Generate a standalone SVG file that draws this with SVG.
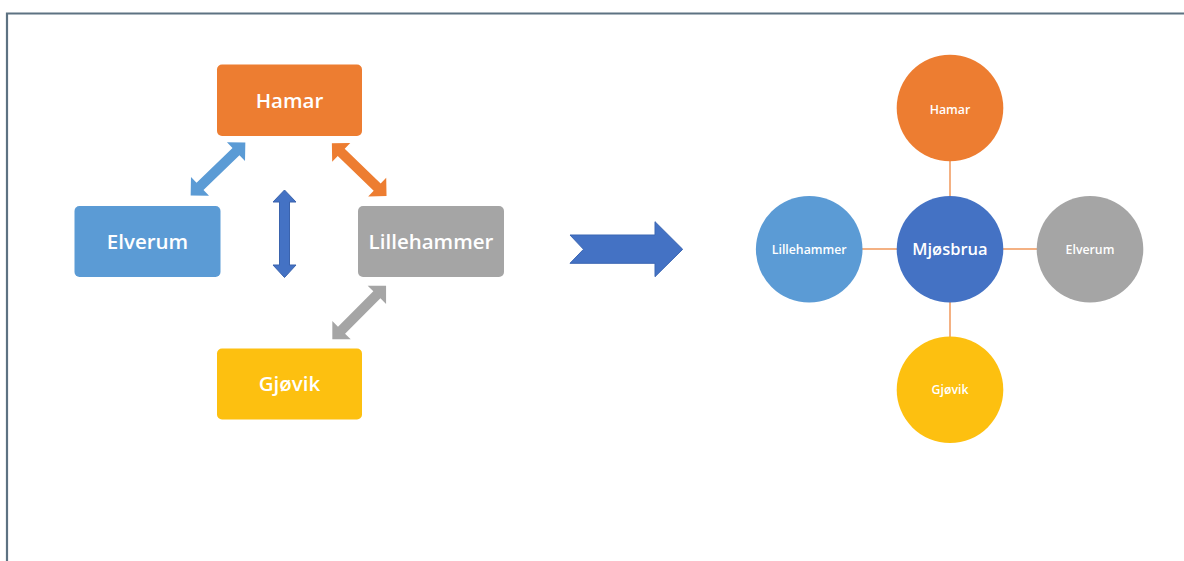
<svg xmlns="http://www.w3.org/2000/svg" width="1184" height="561" viewBox="0 0 1184 561">
<style>
.lbl{font-family:"Open Sans","Liberation Sans",sans-serif;font-weight:600;fill:#fff;text-anchor:middle}
.big{font-size:20.5px}
.sm{font-size:12.3px}
.mid{font-size:16.5px}
.link{stroke:#f4b183;stroke-width:2;fill:none}
</style>
<defs>
<polygon id="dbl" points="-38,0 -25,-13 -25,-5 25,-5 25,-13 38,0 25,13 25,5 -25,5 -25,13"/>
</defs>
<rect width="1184" height="561" fill="#fff"/>
<path d="M7,561 V13.5 H1184" fill="none" stroke="#5d7282" stroke-width="2.2"/>
<g id="connectors">
<use href="#dbl" transform="translate(218,169) rotate(-44)" fill="#5b9bd5"/>
<use href="#dbl" transform="translate(359.2,169.7) rotate(44)" fill="#ed7d31"/>
<use href="#dbl" transform="translate(359.2,312.5) rotate(-45)" fill="#a5a5a5"/>
<polygon points="284.5,190 296,202 289.5,202 289.5,265 296,265 284.5,277.5 273,265 279.5,265 279.5,202 273,202" fill="#4472c4" stroke="#3a63ad" stroke-width="1"/>
<polygon points="570,235 655,235 655,221.7 682.7,249.3 655,276.7 655,263.3 570,263.3 583.5,249.3" fill="#4472c4" stroke="#3b66b3" stroke-width="1"/>
<line class="link" x1="950" y1="161" x2="950" y2="196"/>
<line class="link" x1="950" y1="302" x2="950" y2="337"/>
<line class="link" x1="862" y1="249" x2="897" y2="249"/>
<line class="link" x1="1003" y1="249" x2="1037" y2="249"/>
</g>
<g id="box-hamar"><rect x="217" y="64.5" width="145" height="71.5" rx="5" fill="#ed7d31"/><text class="lbl big" x="289.5" y="107.5">Hamar</text></g>
<g id="box-elverum"><rect x="74.5" y="206" width="146" height="71" rx="5" fill="#5b9bd5"/><text class="lbl big" x="147.5" y="249">Elverum</text></g>
<g id="box-lillehammer"><rect x="358" y="206" width="146" height="71" rx="5" fill="#a5a5a5"/><text class="lbl big" x="431" y="249">Lillehammer</text></g>
<g id="box-gjovik"><rect x="217" y="348.5" width="145" height="71" rx="5" fill="#fdc010"/><text class="lbl big" x="289.5" y="391">Gjøvik</text></g>
<g id="c-hamar"><circle cx="950" cy="108" r="53.3" fill="#ed7d31"/><text class="lbl sm" x="950" y="114">Hamar</text></g>
<g id="c-mjosbrua"><circle cx="950" cy="249.3" r="53.3" fill="#4472c4"/><text class="lbl mid" x="950" y="255">Mjøsbrua</text></g>
<g id="c-lillehammer"><circle cx="809.2" cy="249.3" r="53.3" fill="#5b9bd5"/><text class="lbl sm" x="809.2" y="253.5">Lillehammer</text></g>
<g id="c-elverum"><circle cx="1090" cy="249.3" r="53.3" fill="#a5a5a5"/><text class="lbl sm" x="1090" y="253.5">Elverum</text></g>
<g id="c-gjovik"><circle cx="950" cy="389.7" r="53.3" fill="#fdc010"/><text class="lbl sm" x="950" y="394">Gjøvik</text></g>
</svg>
